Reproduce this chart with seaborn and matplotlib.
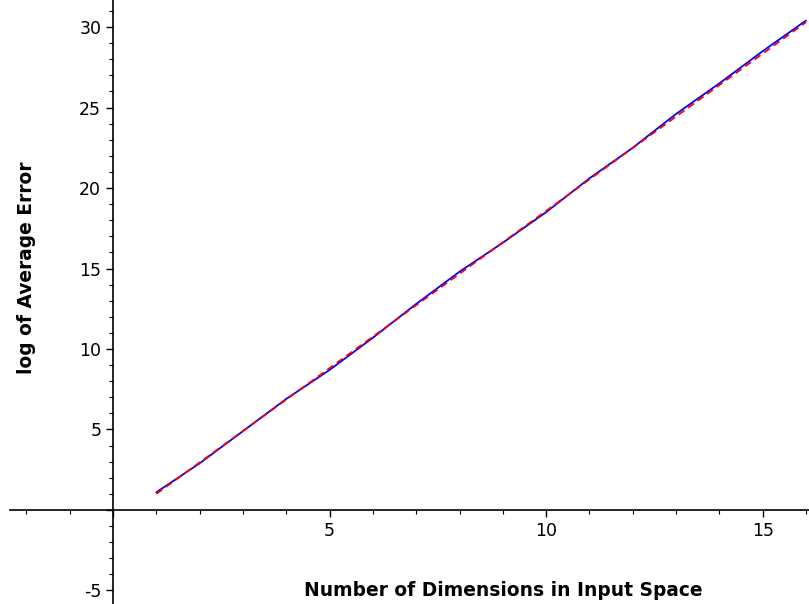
import matplotlib
matplotlib.use("Agg")
import matplotlib.pyplot as plt
import seaborn as sns
import pandas as pd
from matplotlib.ticker import MultipleLocator

dims = [1, 2, 3, 4, 5, 6, 7, 8, 9, 10, 11, 12, 13, 14, 15, 16]
log_err = [1.1, 2.9, 4.9, 6.9, 8.7, 10.7, 12.8, 14.8, 16.6, 18.5, 20.6, 22.5, 24.6, 26.5, 28.5, 30.4]
fit_x = [1, 16]
fit_y = [1.0, 30.3]

sns.set_style("white")
plt.rcParams['font.family'] = ['DejaVu Sans']
plt.rcParams['text.color'] = 'black'
plt.rcParams['xtick.color'] = 'black'
plt.rcParams['ytick.color'] = 'black'

fig = plt.figure(figsize=(8.09, 6.04), dpi=100)
ax = fig.add_axes([0, 0, 1, 1])

df = pd.DataFrame({"x": dims, "y": log_err})
fdf = pd.DataFrame({"x": fit_x, "y": fit_y})
sns.lineplot(data=df, x="x", y="y", ax=ax, color="blue", linewidth=1.3)
sns.lineplot(data=fdf, x="x", y="y", ax=ax, color="red", linewidth=1.3, linestyle=(0, (4, 2.5)))

ax.set_xlim(-2.61, 16.07)
ax.set_ylim(-5.84, 31.68)

for s in ["top", "right"]:
    ax.spines[s].set_visible(False)
ax.spines["left"].set_position(("data", 0))
ax.spines["bottom"].set_position(("data", 0))
ax.spines["bottom"].set_bounds(-2.38, 16.07)
for s in ["left", "bottom"]:
    ax.spines[s].set_color("black")
    ax.spines[s].set_linewidth(1.2)

ax.xaxis.set_major_locator(MultipleLocator(5))
ax.xaxis.set_minor_locator(MultipleLocator(1))
ax.yaxis.set_major_locator(MultipleLocator(5))
ax.yaxis.set_minor_locator(MultipleLocator(1))

ax.tick_params(axis="both", which="both", bottom=True, left=True, top=False, right=False)
ax.tick_params(axis="both", which="major", direction="out", length=5, width=1, labelsize=12.5,
               color="black", labelcolor="black")
ax.tick_params(axis="both", which="minor", direction="out", length=3, width=0.8, color="black")

def xfmt(v, p):
    return "" if abs(v) < 1e-9 else f"{int(round(v))}"
ax.xaxis.set_major_formatter(plt.FuncFormatter(xfmt))
ax.yaxis.set_major_formatter(plt.FuncFormatter(xfmt))

ax.set_xlabel("")
ax.set_ylabel("")
fig.text(503 / 809, 1 - 590 / 604, "Number of Dimensions in Input Space",
         ha="center", va="center", fontsize=13.4, fontweight="bold", color="black")
fig.text(27 / 809, 1 - 268 / 604, "log of Average Error", rotation=90,
         ha="center", va="center", fontsize=13.4, fontweight="bold", color="black")

fig.savefig("out.png", dpi=100)
